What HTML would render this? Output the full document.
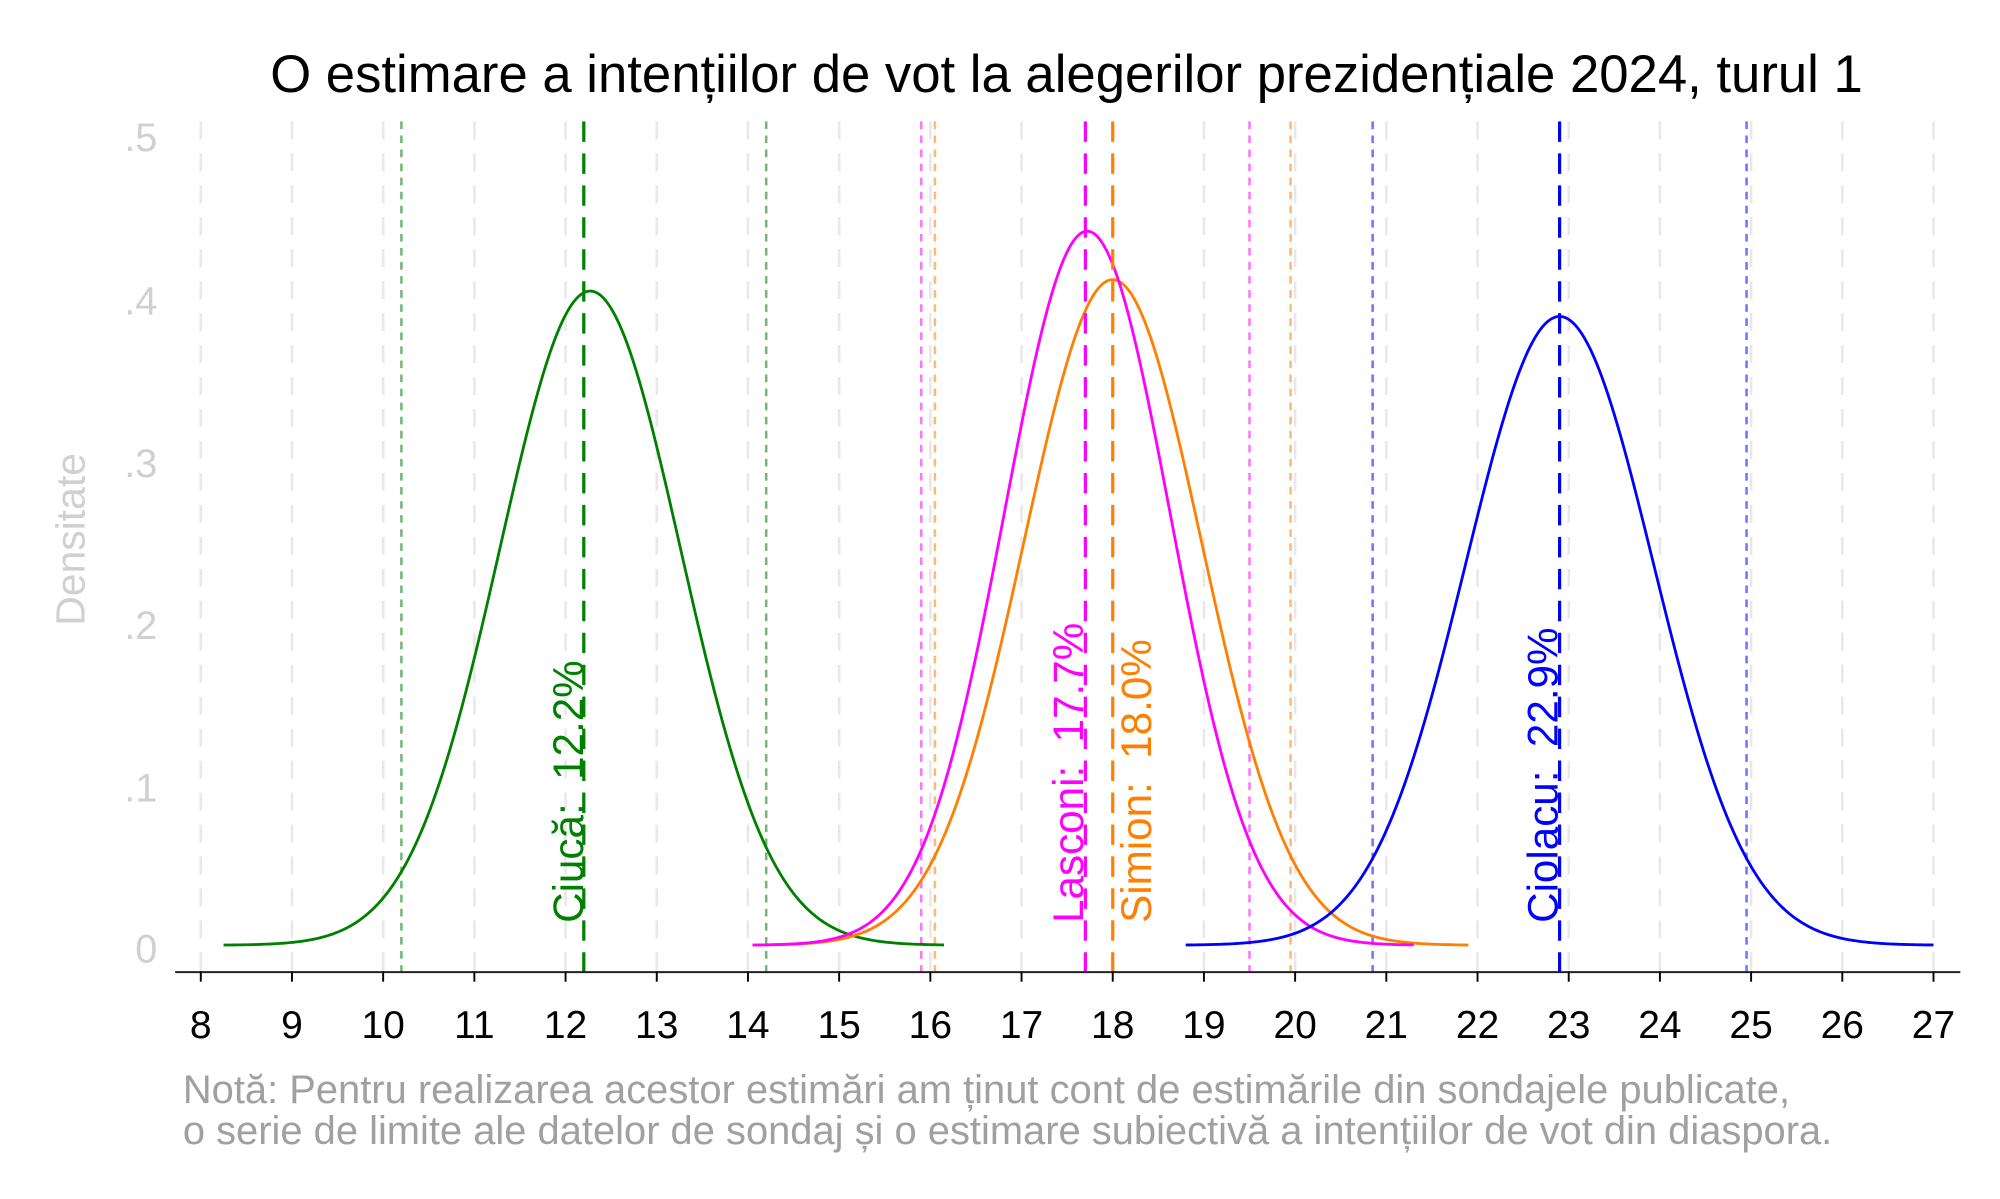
<!DOCTYPE html>
<html><head><meta charset="utf-8"><style>
html,body{margin:0;padding:0;background:#fff}
svg{display:block}
text{font-family:"Liberation Sans",Arial,sans-serif}
</style></head><body>
<svg id="s" width="2000" height="1199" viewBox="0 0 1564 938" preserveAspectRatio="none" xmlns="http://www.w3.org/2000/svg">
<rect width="1564" height="938" fill="#fff"/>
<g id="grid"></g>
<g id="ci"></g>
<g id="curves"></g>
<g id="means"></g>
<text x="834" y="72" font-size="41.2" text-anchor="middle" fill="#000">O estimare a intențiilor de vot la alegerilor prezidențiale 2024, turul 1</text>
<g fill="#d0d0d0" font-size="31" text-anchor="end">
<text x="123" y="118">.5</text><text x="123" y="246">.4</text><text x="123" y="373">.3</text>
<text x="123" y="500">.2</text><text x="123" y="627">.1</text><text x="123" y="753">0</text>
</g>
<text transform="translate(66,422) rotate(-90)" font-size="32" text-anchor="middle" fill="#d0d0d0">Densitate</text>
<line x1="137" y1="760.5" x2="1533" y2="760.5" stroke="#222" stroke-width="1.6"/>
<g id="xt"></g>
<g font-size="33">
<text transform="translate(456,722) rotate(-90)" fill="#008000">Ciucă:&#160;&#160;12.2%</text>
<text transform="translate(847,722) rotate(-90)" fill="#ff00ff">Lasconi:&#160;&#160;17.7%</text>
<text transform="translate(900,722) rotate(-90)" fill="#ff7f00">Simion:&#160;&#160;18.0%</text>
<text transform="translate(1218,722) rotate(-90)" fill="#0000ff">Ciolacu:&#160;&#160;22.9%</text>
</g>
<g fill="#a0a0a0" font-size="31.2">
<text x="143" y="863">Notă: Pentru realizarea acestor estimări am ținut cont de estimările din sondajele publicate,</text>
<text x="143" y="895">o serie de limite ale datelor de sondaj și o estimare subiectivă a intențiilor de vot din diaspora.</text>
</g>
</svg>
<script>
const NS="http://www.w3.org/2000/svg";
const X=v=>157+(v-8)*(1512-157)/19, Y=d=>742-d*1270;
function el(p,t,a){const e=document.createElementNS(NS,t);for(const k in a)e.setAttribute(k,a[k]);document.getElementById(p).appendChild(e);return e;}
for(let i=8;i<=27;i++){
 el("grid","line",{x1:X(i),x2:X(i),y1:95,y2:760,stroke:"#e8e8e8","stroke-width":2,"stroke-dasharray":"14 11"});
 el("xt","line",{x1:X(i),x2:X(i),y1:760,y2:768,stroke:"#000","stroke-width":1.5});
 const t=el("xt","text",{x:X(i),y:812,"font-size":30.5,"text-anchor":"middle",fill:"#000"});t.textContent=i;
}
const S=[
 {c:"#008000",m:12.2,sd:0.99,a:8.25,b:16.15,lo:10.2,hi:14.2,pk:12.27},
 {c:"#ff7f00",m:18.0,sd:0.973,a:14.05,b:21.9,lo:16.05,hi:19.95,pk:18.0},
 {c:"#ff00ff",m:17.7,sd:0.907,a:14.05,b:21.3,lo:15.9,hi:19.5,pk:17.72},
 {c:"#0000ff",m:22.9,sd:1.03,a:18.8,b:27.0,lo:20.85,hi:24.95,pk:22.9}];
for(const s of S){
 let d="";for(let i=0;i<=300;i++){const x=s.a+(s.b-s.a)*i/300;const z=(x-s.pk)/s.sd;const y=Math.exp(-z*z/2)/(s.sd*Math.sqrt(2*Math.PI))+0.002;d+=(i?"L":"M")+X(x).toFixed(2)+","+Y(y).toFixed(2);}
 el("curves","path",{d:d,fill:"none",stroke:s.c,"stroke-width":2.2});
 for(const v of [s.lo,s.hi])el("ci","line",{x1:X(v),x2:X(v),y1:95,y2:760,stroke:s.c,"stroke-opacity":0.55,"stroke-width":2,"stroke-dasharray":"6 5"});
 el("means","line",{x1:X(s.m),x2:X(s.m),y1:95,y2:760,stroke:s.c,"stroke-width":2.5,"stroke-dasharray":"16 9"});
}
</script>
</body></html>
